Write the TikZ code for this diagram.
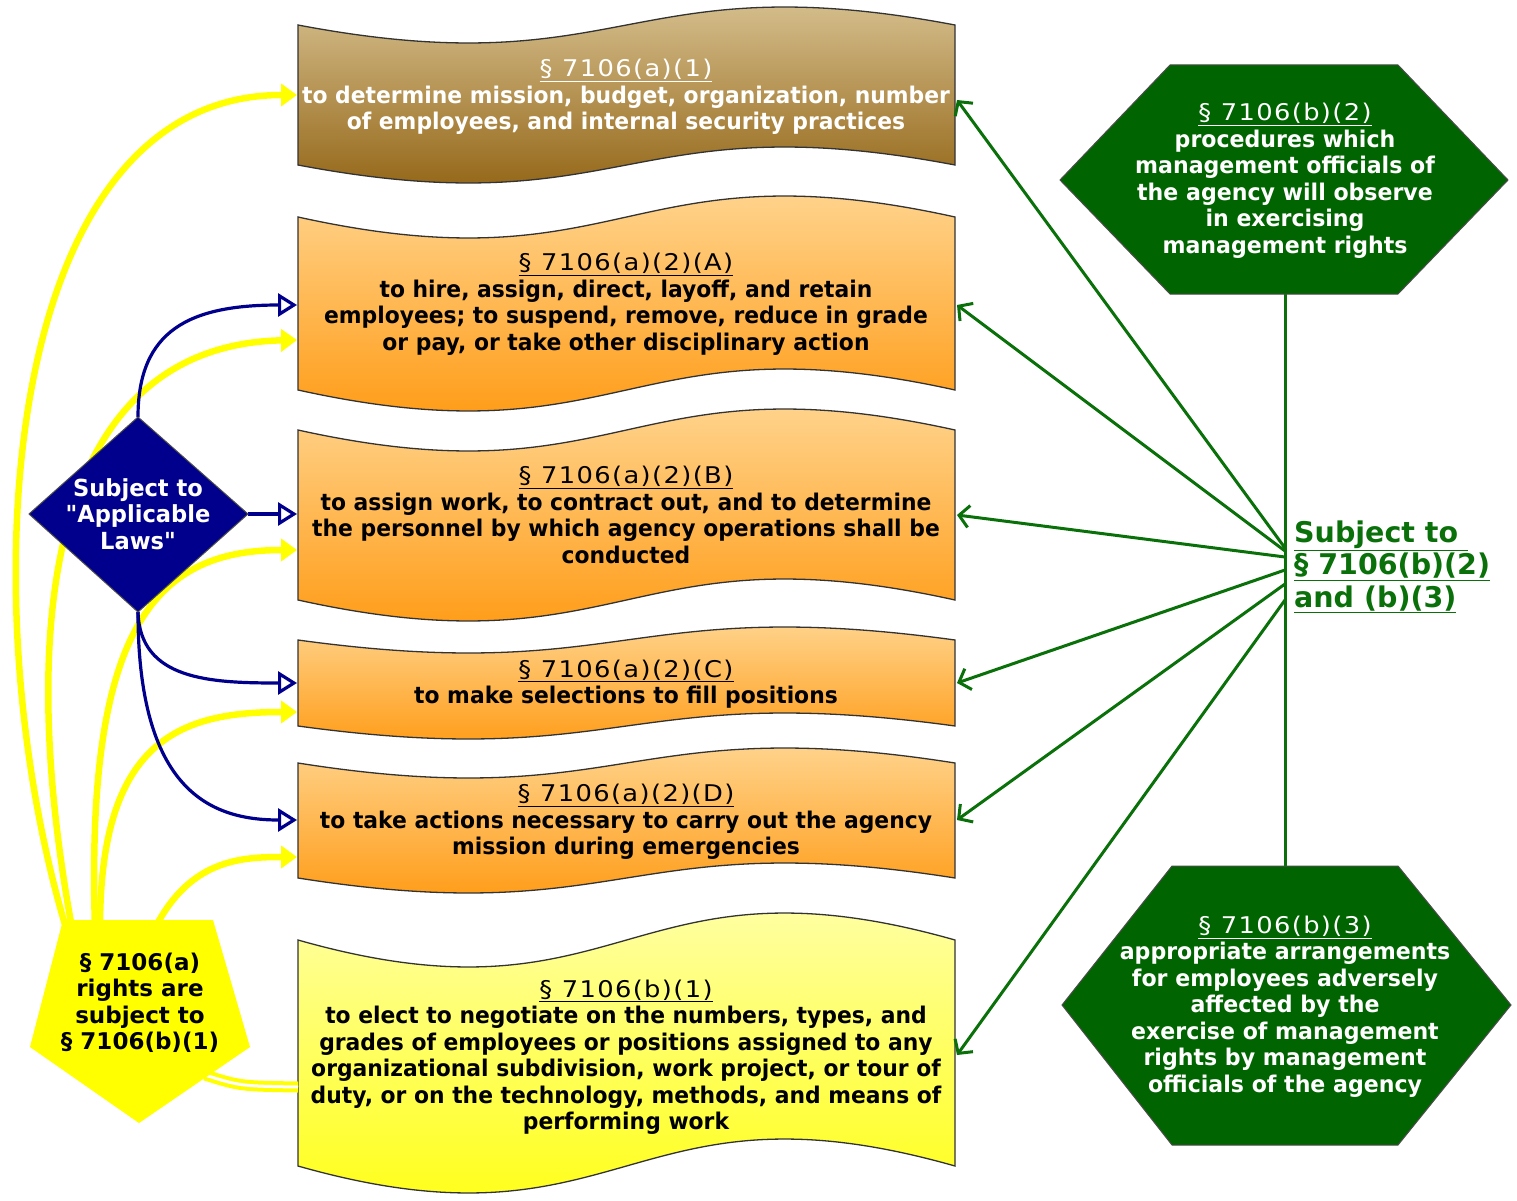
\documentclass[tikz,border=0pt]{standalone}
\usepackage{fontspec}
\setmainfont{DejaVu Sans}
\newfontfamily\condfont{DejaVu Sans}[FakeStretch=0.95]
\newfontfamily\hexfont{DejaVu Sans}[FakeStretch=0.96]
\newfontfamily\pentfont{DejaVu Sans}[FakeStretch=1.0]
\newfontfamily\hdfontfam{DejaVu Sans}[FakeStretch=1.12, LetterSpace=6]
\usetikzlibrary{arrows.meta}
\definecolor{navyd}{RGB}{0,0,140}
\definecolor{hexgreen}{RGB}{0,100,0}
\definecolor{lnkgreen}{RGB}{10,112,10}
\definecolor{ylw}{RGB}{255,255,0}
\definecolor{brtop}{RGB}{226,208,165}
\definecolor{brbot}{RGB}{135,85,0}
\definecolor{ortop}{RGB}{255,223,165}
\definecolor{orbot}{RGB}{255,145,0}
\definecolor{yltop}{RGB}{255,255,190}
\definecolor{ylbot}{RGB}{255,255,0}
\newcommand\bantextfont{\condfont\bfseries\fontsize{23}{26.5}\selectfont}
\newcommand\hextextfont{\hexfont\bfseries\fontsize{23}{26.5}\selectfont}
\newcommand\pentextfont{\pentfont\bfseries\fontsize{23}{26.5}\selectfont}
\newcommand\diatextfont{\hexfont\bfseries\fontsize{23.5}{26.5}\selectfont}
\newcommand\labfont{\bfseries\fontsize{28.5}{32.5}\selectfont}
\newcommand\hd[1]{\underline{\hdfontfam\mdseries #1}}
\tikzset{
  bannerbox/.style={draw=black!80, line width=1.3pt},
  bantext/.style={align=center, font=\bantextfont, inner sep=0pt},
  hextext/.style={align=center, font=\hextextfont, inner sep=0pt, text=white},
  yarrow/.style={draw=ylw, line width=6.5pt, -{Triangle[length=16pt,width=22pt]}},
  barrow/.style={draw=navyd, line width=3.2pt, -{Triangle[open,length=19pt,width=23pt,fill=white]}},
  garrow/.style={draw=lnkgreen, line width=3pt, -{Straight Barb[length=10pt,width=22pt]}},
  gline/.style={draw=lnkgreen, line width=3pt},
  hexbox/.style={fill=hexgreen, draw=black!70, line width=1pt},
}
\begin{document}
\begin{tikzpicture}[x=1pt,y=-1pt]
\useasboundingbox (0,0) rectangle (1517,1201);

% ---------- banners ----------
\path[bannerbox, top color=brtop, bottom color=brbot]
  (298,25) .. controls (626.5,25+3.46*18) and (626.5,25-3.46*18) .. (955,25)
  -- (955,165) .. controls (626.5,165-3.46*18) and (626.5,165+3.46*18) .. (298,165) -- cycle;
\path[bannerbox, top color=ortop, bottom color=orbot]
  (298,217) .. controls (626.5,217+3.46*21) and (626.5,217-3.46*21) .. (955,217)
  -- (955,390) .. controls (626.5,390-3.46*21) and (626.5,390+3.46*21) .. (298,390) -- cycle;
\path[bannerbox, top color=ortop, bottom color=orbot]
  (298,430) .. controls (626.5,430+3.46*21) and (626.5,430-3.46*21) .. (955,430)
  -- (955,600) .. controls (626.5,600-3.46*21) and (626.5,600+3.46*21) .. (298,600) -- cycle;
\path[bannerbox, top color=ortop, bottom color=orbot]
  (298,640) .. controls (626.5,640+3.46*13) and (626.5,640-3.46*13) .. (955,640)
  -- (955,726) .. controls (626.5,726-3.46*13) and (626.5,726+3.46*13) .. (298,726) -- cycle;
\path[bannerbox, top color=ortop, bottom color=orbot]
  (298,763) .. controls (626.5,763+3.46*15) and (626.5,763-3.46*15) .. (955,763)
  -- (955,878) .. controls (626.5,878-3.46*15) and (626.5,878+3.46*15) .. (298,878) -- cycle;
\path[bannerbox, top color=yltop, bottom color=ylbot]
  (298,940) .. controls (626.5,940+3.46*27) and (626.5,940-3.46*27) .. (955,940)
  -- (955,1166) .. controls (626.5,1166-3.46*27) and (626.5,1166+3.46*27) .. (298,1166) -- cycle;

% ---------- named anchor points ----------
\coordinate (b1L) at (297,95);
\coordinate (b2Lb) at (297,305);
\coordinate (b2Ly) at (297,340);
\coordinate (b3Lb) at (297,514);
\coordinate (b3Ly) at (297,550);
\coordinate (b4Lb) at (297,683);
\coordinate (b4Ly) at (297,712);
\coordinate (b5Lb) at (297,820);
\coordinate (b5Ly) at (297,857);
\coordinate (b6L) at (298,1087);
\coordinate (b1R) at (957,100);
\coordinate (b2R) at (957,305);
\coordinate (b3R) at (957,515);
\coordinate (b4R) at (957,683);
\coordinate (b5R) at (957,820);
\coordinate (b6R) at (957,1055);

\coordinate (dT) at (138,417);
\coordinate (dR) at (248,514);
\coordinate (dB) at (138,612);
\coordinate (dL) at (29,514);

\coordinate (pTL) at (63,920);
\coordinate (pTR) at (213,920);
\coordinate (pR) at (250,1047);
\coordinate (pB) at (139,1123);
\coordinate (pL) at (30,1047);
\coordinate (p1) at (66,928);
\coordinate (p2) at (72,928);
\coordinate (p3) at (95,928);
\coordinate (p4) at (100,928);
\coordinate (p5) at (155,928);
\coordinate (p6) at (205,1075);

\coordinate (g1) at (1285,548);
\coordinate (g2) at (1285,551);
\coordinate (g3) at (1285,557);
\coordinate (g4) at (1285,570);
\coordinate (g5) at (1285,584);
\coordinate (g6) at (1285,600);

% ---------- yellow connectors ----------
\draw[yarrow] (p1) .. controls (-32,600) and (0,95) .. (b1L);
\draw[yarrow] (p2) .. controls (12,600) and (60,345) .. (b2Ly);
\draw[yarrow] (p3) .. controls (85,620) and (160,550) .. (b3Ly);
\draw[yarrow] (p4) .. controls (100,740) and (180,712) .. (b4Ly);
\draw[yarrow] (p5) .. controls (190,860) and (240,857) .. (b5Ly);
\draw[draw=ylw, line width=4pt, double=white, double distance=3pt]
  (p6) .. controls (240,1086) .. (b6L);

% ---------- blue connectors ----------
\draw[barrow] (dT) .. controls (138,330) and (190,305) .. (b2Lb);
\draw[barrow] (dR) -- (b3Lb);
\draw[barrow] (dB) .. controls (140,680) and (210,683) .. (b4Lb);
\draw[barrow] (dB) .. controls (138,790) and (210,820) .. (b5Lb);

% ---------- diamond ----------
\path[fill=navyd, draw=black!70, line width=1pt] (dT) -- (dR) -- (dB) -- (dL) -- cycle;
\node[align=center, inner sep=0pt, font=\diatextfont, text=white] (dia) at (138,514) {Subject to\\"Applicable\\Laws"};

% ---------- pentagon ----------
\path[fill=ylw] (pTL) -- (pTR) -- (pR) -- (pB) -- (pL) -- cycle;
\node[align=center, inner sep=0pt, font=\pentextfont, text=black] (pent) at (140,1003) {§ 7106(a)\\rights are\\subject to\\§ 7106(b)(1)};

% ---------- green connectors ----------
\coordinate (h1B) at (1285,294);
\coordinate (h2T) at (1285,866);
\draw[gline] (h1B) -- (h2T);
\draw[garrow] (g1) -- (b1R);
\draw[garrow] (g2) -- (b2R);
\draw[garrow] (g3) -- (b3R);
\draw[garrow] (g4) -- (b4R);
\draw[garrow] (g5) -- (b5R);
\draw[garrow] (g6) -- (b6R);

% ---------- hexagons ----------
\path[hexbox] (1170,65) -- (1398,65) -- (1508,180) -- (1398,294) -- (1170,294) -- (1060,180) -- cycle;
\node[hextext] (hex1) at (1285,180.5) {\hd{§ 7106(b)(2)}\\procedures which\\management officials of\\the agency will observe\\in exercising\\management rights};
\path[hexbox] (1172,866) -- (1398,866) -- (1511,1005) -- (1398,1145) -- (1172,1145) -- (1062,1005) -- cycle;
\node[hextext] (hex2) at (1285,1006.5) {\hd{§ 7106(b)(3)}\\appropriate arrangements\\for employees adversely\\affected by the\\exercise of management\\rights by management\\officials of the agency};

% ---------- label ----------
\node[align=left, anchor=west, inner sep=0pt, font=\labfont, text=lnkgreen] (lab) at (1294,567)
  {\underline{Subject to\ }\\\underline{§ 7106(b)(2)}\\\underline{and (b)(3)}};

% ---------- banner texts ----------
\node[bantext, text=white] (t1) at (626,97) {\hd{§ 7106(a)(1)}\\to determine mission, budget, organization, number\\of employees, and internal security practices};
\node[bantext, text=black] (t2) at (626,304.5) {\hd{§ 7106(a)(2)(A)}\\to hire, assign, direct, layoff, and retain\\employees; to suspend, remove, reduce in grade\\or pay, or take other disciplinary action};
\node[bantext, text=black] (t3) at (626,515) {\hd{§ 7106(a)(2)(B)}\\to assign work, to contract out, and to determine\\the personnel by which agency operations shall be\\conducted};
\node[bantext, text=black] (t4) at (626,684) {\hd{§ 7106(a)(2)(C)}\\to make selections to fill positions};
\node[bantext, text=black] (t5) at (626,822) {\hd{§ 7106(a)(2)(D)}\\to take actions necessary to carry out the agency\\mission during emergencies};
\node[bantext, text=black] (t6) at (626,1057) {\hd{§ 7106(b)(1)}\\to elect to negotiate on the numbers, types, and\\grades of employees or positions assigned to any\\organizational subdivision, work project, or tour of\\duty, or on the technology, methods, and means of\\performing work};
\end{tikzpicture}
\end{document}
